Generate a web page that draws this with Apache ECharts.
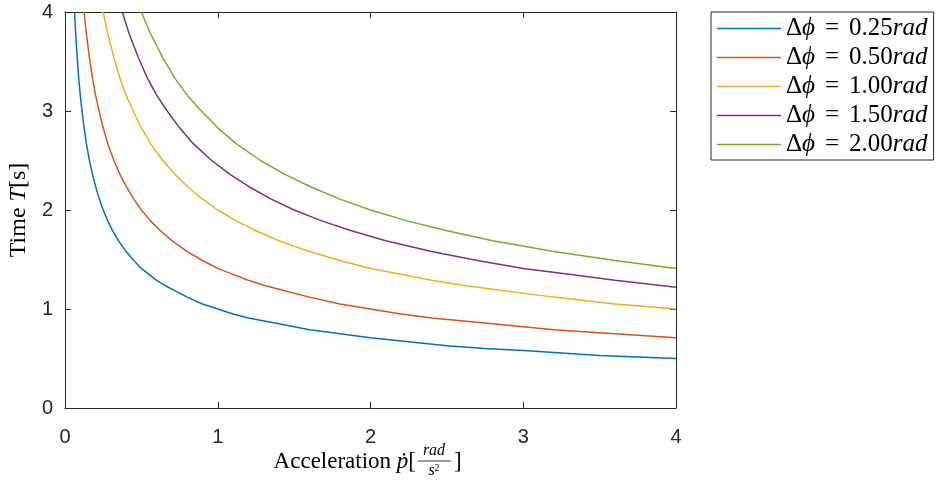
<!DOCTYPE html>
<html>
<head>
<meta charset="utf-8">
<script src="https://cdn.jsdelivr.net/npm/echarts@6/dist/echarts.min.js"></script>
<style>
  html, body { margin: 0; padding: 0; background: #fff; }
  #chart { width: 936px; height: 484px; }
</style>
</head>
<body>
<div id="chart"></div>
<script>
// Time to cover an angle at constant angular acceleration, one curve per angle.
// Each curve: [acceleration rad/s^2, time s]
const phiLabels = ['0.25', '0.50', '1.00', '1.50', '2.00'];
const colors = ['#0072BD', '#D95319', '#EDB120', '#7E2F8E', '#77AC30'];

const phi025 = [[0.0625, 4.00], [0.07, 3.78], [0.08, 3.54], [0.09, 3.33], [0.1, 3.16], [0.11, 3.02],
  [0.125, 2.83], [0.14, 2.67], [0.16, 2.50], [0.18, 2.36], [0.2, 2.24], [0.225, 2.11], [0.25, 2.00],
  [0.28, 1.89], [0.3125, 1.79], [0.35, 1.69], [0.4, 1.58], [0.45, 1.49], [0.5, 1.41], [0.55, 1.35],
  [0.6, 1.29], [0.65, 1.24], [0.7, 1.20], [0.8, 1.12], [0.9, 1.05], [1, 1.00], [1.1, 0.95],
  [1.2, 0.91], [1.4, 0.85], [1.6, 0.79], [1.8, 0.75], [2, 0.71], [2.25, 0.67], [2.5, 0.63],
  [2.75, 0.60], [3, 0.58], [3.5, 0.53], [4, 0.50]];
const phi050 = [[0.125, 4.00], [0.14, 3.78], [0.16, 3.54], [0.18, 3.33], [0.2, 3.16], [0.22, 3.02],
  [0.25, 2.83], [0.28, 2.67], [0.32, 2.50], [0.36, 2.36], [0.4, 2.24], [0.45, 2.11], [0.5, 2.00],
  [0.56, 1.89], [0.625, 1.79], [0.7, 1.69], [0.8, 1.58], [0.9, 1.49], [1, 1.41], [1.1, 1.35],
  [1.2, 1.29], [1.3, 1.24], [1.4, 1.20], [1.6, 1.12], [1.8, 1.05], [2, 1.00], [2.2, 0.95],
  [2.4, 0.91], [2.8, 0.85], [3.2, 0.79], [3.6, 0.75], [4, 0.71]];
const phi100 = [[0.25, 4.00], [0.28, 3.78], [0.32, 3.54], [0.36, 3.33], [0.4, 3.16], [0.44, 3.02],
  [0.5, 2.83], [0.56, 2.67], [0.64, 2.50], [0.72, 2.36], [0.8, 2.24], [0.9, 2.11], [1, 2.00],
  [1.12, 1.89], [1.25, 1.79], [1.4, 1.69], [1.6, 1.58], [1.8, 1.49], [2, 1.41], [2.2, 1.35],
  [2.4, 1.29], [2.6, 1.24], [2.8, 1.20], [3.2, 1.12], [3.6, 1.05], [4, 1.00]];
const phi150 = [[0.375, 4.00], [0.42, 3.78], [0.48, 3.54], [0.54, 3.33], [0.6, 3.16], [0.66, 3.02],
  [0.75, 2.83], [0.84, 2.67], [0.96, 2.50], [1.08, 2.36], [1.2, 2.24], [1.35, 2.11], [1.5, 2.00],
  [1.68, 1.89], [1.875, 1.79], [2.1, 1.69], [2.4, 1.58], [2.7, 1.49], [3, 1.41], [3.3, 1.35],
  [3.6, 1.29], [4, 1.22]];
const phi200 = [[0.5, 4.00], [0.56, 3.78], [0.64, 3.54], [0.72, 3.33], [0.8, 3.16], [0.88, 3.02],
  [1, 2.83], [1.12, 2.67], [1.28, 2.50], [1.44, 2.36], [1.6, 2.24], [1.8, 2.11], [2, 2.00],
  [2.24, 1.89], [2.5, 1.79], [2.8, 1.69], [3.2, 1.58], [3.6, 1.49], [4, 1.41]];
const curves = [phi025, phi050, phi100, phi150, phi200];

const xTicks = [0, 1, 2, 3, 4];
const yTicks = [0, 1, 2, 3, 4];

const axisColor = '#262626';
const serif = "'Liberation Serif', 'DejaVu Serif', serif";
const sans = "'Liberation Sans', Arial, sans-serif";

const mathRich = (size, gap) => ({
  r: { fontFamily: serif, fontSize: size, color: '#000' },
  i: { fontFamily: serif, fontSize: size, fontStyle: 'italic', color: '#000' },
  e: { fontFamily: serif, fontSize: size, color: '#000', padding: [0, gap || 6, 0, gap || 6] }
});

const seriesName = (v) => 'Δϕ = ' + v + 'rad';

const baseAxis = {
  type: 'value', min: xTicks[0], max: xTicks[xTicks.length - 1], interval: 1,
  axisLine: { show: true, onZero: false, lineStyle: { color: axisColor, width: 1 } },
  axisTick: { show: true, inside: true, length: 6, lineStyle: { color: axisColor } },
  splitLine: { show: false }
};

const chart = echarts.init(document.getElementById('chart'));
chart.setOption({
  animation: false,
  backgroundColor: '#fff',
  grid: { left: 65, top: 12, right: 260, bottom: 76, containLabel: false, outerBoundsMode: 'none' },
  xAxis: [
    Object.assign({}, baseAxis, {
      position: 'bottom',
      axisLabel: { show: true, margin: 19, fontFamily: sans, fontSize: 20, color: axisColor }
    }),
    Object.assign({}, baseAxis, { position: 'top', axisLabel: { show: false } })
  ],
  yAxis: [
    Object.assign({}, baseAxis, {
      min: yTicks[0], max: yTicks[yTicks.length - 1],
      position: 'left',
      axisLabel: { show: true, margin: 12, fontFamily: sans, fontSize: 20, color: axisColor },
      name: '{r|Time }{i|T}{r|[s]}',
      nameLocation: 'middle', nameRotate: 90, nameGap: 33,
      nameTextStyle: { rich: mathRich(24) }
    }),
    Object.assign({}, baseAxis, {
      min: yTicks[0], max: yTicks[yTicks.length - 1],
      position: 'right', axisLabel: { show: false }
    })
  ],
  legend: {
    orient: 'vertical', left: 711, top: 12,
    padding: [4, 6, 3, 6], itemWidth: 64, itemHeight: 1.5, itemGap: 4,
    icon: 'rect',
    borderColor: axisColor, borderWidth: 1, borderRadius: 0, backgroundColor: '#fff',
    data: phiLabels.map(seriesName),
    formatter: (name) => {
      const v = name.replace('Δϕ = ', '').replace('rad', '');
      return '{r|Δ}{i|ϕ}{e|=}{r|' + v + '}{i|rad}';
    },
    textStyle: { rich: mathRich(25, 10) }
  },
  graphic: [
    {
      type: 'text', x: 416, y: 462,
      style: {
        text: '{r|Acceleration }{i|ṗ}{r|[}', textAlign: 'right', textVerticalAlign: 'middle',
        rich: mathRich(23)
      }
    },
    {
      type: 'text', x: 434, y: 451,
      style: {
        text: 'rad', textAlign: 'center', textVerticalAlign: 'middle',
        fontFamily: serif, fontStyle: 'italic', fontSize: 16, fill: '#000'
      }
    },
    {
      type: 'line', shape: { x1: 418, y1: 461, x2: 451, y2: 461 },
      style: { stroke: '#000', lineWidth: 0.8 }
    },
    {
      type: 'text', x: 434, y: 471,
      style: {
        text: '{i|s}{s|2}', textAlign: 'center', textVerticalAlign: 'middle',
        rich: {
          i: { fontFamily: serif, fontStyle: 'italic', fontSize: 16, fill: '#000' },
          s: { fontFamily: serif, fontSize: 10, fill: '#000', verticalAlign: 'top', padding: [0, 0, 6, 0] }
        }
      }
    },
    {
      type: 'text', x: 454, y: 462,
      style: {
        text: ']', textAlign: 'left', textVerticalAlign: 'middle',
        fontFamily: serif, fontSize: 23, fill: '#000'
      }
    }
  ],
  series: curves.map((d, k) => ({
    name: seriesName(phiLabels[k]),
    type: 'line',
    data: d,
    xAxisIndex: 0, yAxisIndex: 0,
    showSymbol: false, symbol: 'none',
    smooth: false,
    clip: true,
    color: colors[k],
    lineStyle: { color: colors[k], width: 1.5 }
  }))
});
</script>
</body>
</html>
